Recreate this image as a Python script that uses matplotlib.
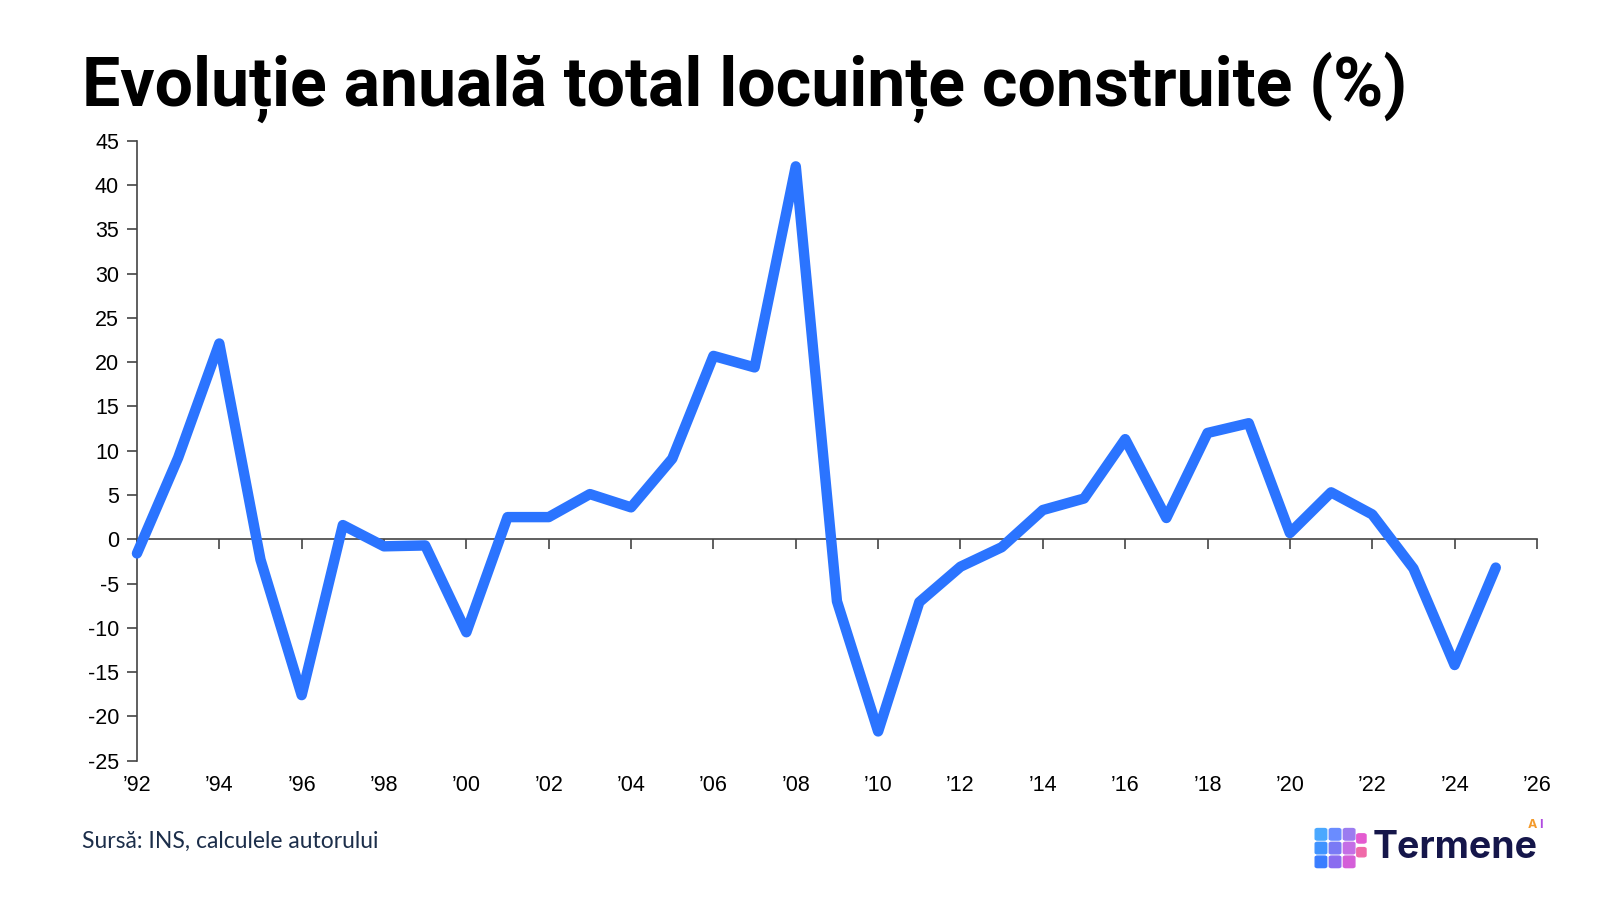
import matplotlib
matplotlib.use('Agg')
import matplotlib.pyplot as plt
from matplotlib.patches import FancyBboxPatch

years = list(range(1992, 2026))
change = [-1.6, 9.2, 22.1, -2.3, -17.6, 1.6, -0.8, -0.7, -10.5, 2.5,
          2.5, 5.1, 3.6, 9.1, 20.7, 19.4, 42.1, -7.0, -21.7, -7.1,
          -3.1, -0.9, 3.3, 4.6, 11.3, 2.4, 12.0, 13.1, 0.7, 5.3,
          2.8, -3.3, -14.2, -3.2]

xticks = list(range(1992, 2027, 2))
xlabels = ['\u2019%02d' % (y % 100) for y in xticks]
yticks = list(range(-25, 50, 5))

title = 'Evoluție anuală total locuințe construite (%)'
source = 'Sursă: INS, calculele autorului'

line_color = '#2B74FF'
axis_color = '#444444'

fig = plt.figure(figsize=(16, 9), dpi=100)
ax = fig.add_axes([0.0856, 0.1548, 0.8750, 0.6889])

ax.plot(years, change, color=line_color, linewidth=7.5,
        solid_joinstyle='round', solid_capstyle='round', clip_on=False, zorder=3)

ax.set_xlim(1992, 2026)
ax.set_ylim(-25, 45)
ax.set_yticks(yticks)
ax.set_yticklabels([str(v) for v in yticks], family='Liberation Sans', fontsize=15.5)
ax.set_xticks(xticks)
ax.set_xticklabels(xlabels, family='Liberation Sans', fontsize=15.5)

for s in ['top', 'right', 'bottom']:
    ax.spines[s].set_visible(False)
ax.spines['left'].set_color(axis_color)
ax.spines['left'].set_linewidth(1.2)
ax.tick_params(axis='y', direction='out', length=7, width=1.2, color=axis_color, pad=6)
ax.tick_params(axis='x', length=0, pad=10)

# zero line with its own ticks
zero = ax.secondary_xaxis(0, transform=ax.transData)
zero.set_xticks(xticks)
zero.tick_params(axis='x', direction='out', length=7, width=1.2, color=axis_color, labelbottom=False)
zero.spines['bottom'].set_color(axis_color)
zero.spines['bottom'].set_linewidth(1.2)

fig.text(0.051, 0.883, title, fontsize=49, fontweight='bold',
         family='Roboto', color='black', va='baseline')
fig.text(0.051, 0.058, source, fontsize=16.5, family='Lato', color='#1c2e4a', va='baseline')

# logo
fig.text(0.858, 0.047, 'Termene', fontsize=27, fontweight='bold', family='Inter',
         color='#15164a', va='baseline')
fig.text(0.955, 0.08, 'A', fontsize=9, fontweight='bold', family='Inter', color='#f39a2b')
fig.text(0.962, 0.08, 'I', fontsize=9, fontweight='bold', family='Inter', color='#b04ae0')
cube_cols = ['#4aa8ff', '#6a8cff', '#9b7cf0', '#3f93ff', '#7a7af5', '#c46ee6',
             '#3a7dff', '#8a6cf0', '#d45ed8']
s = 0.0072
for i in range(3):
    for j in range(3):
        fig.patches.append(FancyBboxPatch((0.822 + j * (s + 0.0016), 0.036 + (2 - i) * (s * 16 / 9 + 0.0025)),
                                          s, s * 16 / 9, boxstyle='round,pad=0,rounding_size=0.0015',
                                          transform=fig.transFigure, color=cube_cols[i * 3 + j]))
for k, c in enumerate(['#f06aa8', '#e45bd0']):
    fig.patches.append(FancyBboxPatch((0.848, 0.048 + k * (s * 16 / 9 + 0.0025)), s * 0.8, s * 16 / 9 * 0.8,
                                      boxstyle='round,pad=0,rounding_size=0.0015',
                                      transform=fig.transFigure, color=c))

fig.savefig('out.png', dpi=100)
